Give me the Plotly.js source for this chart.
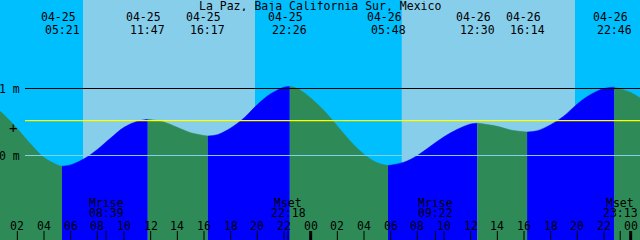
<!DOCTYPE html>
<html>
<head>
<meta charset="utf-8">
<script src="https://cdn.plot.ly/plotly-3.0.1.min.js"></script>
<style>html,body{margin:0;padding:0;background:#00BFFF;}#chart{width:640px;height:240px;}</style>
</head>
<body>
<div id="chart"></div>
<script>
// ---- data (hours since 2025-04-25 00:00, levels in metres) ----
const titleText = "La Paz, Baja California Sur, Mexico";
const hours  = [0.7, 1, 2, 3, 4, 5, 5.35, 6, 7, 8, 9, 10, 11, 11.783, 13, 14, 15, 16.283, 17, 18, 19, 20, 21, 22, 22.433, 23, 24, 25, 26, 27, 28, 29, 29.8, 31, 32, 33, 34, 35, 36, 36.5, 37, 38, 39, 40.233, 41, 42, 43, 44, 45, 46, 46.767, 48, 48.7];
const levels = [0.66, 0.61, 0.40, 0.17, -0.03, -0.14, -0.16, -0.14, -0.05, 0.09, 0.26, 0.42, 0.51, 0.54, 0.50, 0.42, 0.34, 0.29, 0.31, 0.41, 0.56, 0.76, 0.92, 1.02, 1.03, 1.00, 0.86, 0.67, 0.44, 0.21, 0.02, -0.11, -0.15, -0.10, 0.00, 0.14, 0.28, 0.39, 0.47, 0.48, 0.47, 0.435, 0.38, 0.35, 0.37, 0.46, 0.59, 0.77, 0.91, 1.00, 1.02, 0.94, 0.86];
const extremeHours = [5.35, 11.783, 16.283, 22.433, 29.8, 36.5, 40.233, 46.767];
const extremeDates = ["04-25", "04-25", "04-25", "04-25", "04-26", "04-26", "04-26", "04-26"];
const extremeTimes = ["05:21", "11:47", "16:17", "22:26", "05:48", "12:30", "16:14", "22:46"];
const sunriseHours = [6.925, 30.83];
const sunsetHours  = [19.825, 43.825];
const moonHours = [8.65, 22.3, 33.367, 47.217];
const moonKinds = ["Mrise", "Mset", "Mrise", "Mset"];
const moonTimes = ["08:39", "22:18", "09:22", "23:13"];
const tickHours  = [2, 4, 6, 8, 10, 12, 14, 16, 18, 20, 22, 24, 26, 28, 30, 32, 34, 36, 38, 40, 42, 44, 46, 48];
const tickLabels = ["02", "04", "06", "08", "10", "12", "14", "16", "18", "20", "22", "00", "02", "04", "06", "08", "10", "12", "14", "16", "18", "20", "22", "00"];
const midnightHours = [24, 48];
const meanLevel = 0.522;
const axisLabels = ["1 m", "0 m"];
const axisLevels = [1, 0];

// ---- styling ----
const X0 = 0.7, X1 = 48.7;
const Y0 = -1.2612, Y1 = 2.3209;
const NIGHT = "#00BFFF", DAY = "#87CEEB", RISE = "#0000FF", FALL = "#2E8B57";
const FONT = {family: "DejaVu Sans Mono, monospace", size: 11.5, color: "#000"};
const ROWH = 10;
const py = px => 1 - px / 240;

// tide fill segments between extremes
const bounds = [X0].concat(extremeHours, [X1]);
const traces = [];
for (let i = 0; i < bounds.length - 1; i++) {
  const a = bounds[i], b = bounds[i + 1];
  const xs = [], ys = [];
  hours.forEach((h, k) => { if (h >= a - 1e-9 && h <= b + 1e-9) { xs.push(h); ys.push(levels[k]); } });
  const rising = ys[ys.length - 1] > ys[0];
  const col = rising ? RISE : FALL;
  traces.push({x: [a, b], y: [Y0 - 0.2, Y0 - 0.2], mode: "lines", line: {width: 0}, hoverinfo: "skip", showlegend: false});
  traces.push({x: xs, y: ys, mode: "lines", line: {width: 0.5, color: col, shape: "spline", smoothing: 1}, fill: "tonexty", fillcolor: col, hoverinfo: "skip", showlegend: false});
}

// background day/night
const shapes = [];
shapes.push({type: "rect", xref: "paper", yref: "paper", x0: 0, x1: 1, y0: 0, y1: 1, fillcolor: NIGHT, line: {width: 0}, layer: "below"});
sunriseHours.forEach((s, i) => {
  shapes.push({type: "rect", xref: "x", yref: "paper", x0: s, x1: sunsetHours[i], y0: 0, y1: 1, fillcolor: DAY, line: {width: 0}, layer: "below"});
});
// reference lines
const lx0 = 25 / 640;
shapes.push({type: "line", xref: "paper", yref: "y", x0: lx0, x1: 1, y0: 1, y1: 1, line: {color: "#000000", width: 1}, layer: "above"});
shapes.push({type: "line", xref: "paper", yref: "y", x0: lx0, x1: 1, y0: 0, y1: 0, line: {color: DAY, width: 1}, layer: "above"});
shapes.push({type: "line", xref: "paper", yref: "y", x0: lx0, x1: 1, y0: meanLevel, y1: meanLevel, line: {color: "#FFFF00", width: 1.2}, layer: "above"});
// ticks
tickHours.forEach(h => {
  shapes.push({type: "line", xref: "x", yref: "paper", x0: h, x1: h, y0: 0, y1: 9 / 240, line: {color: "#000", width: 1}, layer: "above"});
});
midnightHours.forEach(h => {
  shapes.push({type: "line", xref: "x", yref: "paper", x0: h, x1: h, y0: 0, y1: 9 / 240, line: {color: "#000", width: 3}, layer: "above"});
});
moonHours.forEach(h => {
  shapes.push({type: "line", xref: "x", yref: "paper", x0: h, x1: h, y0: 0, y1: 9 / 240, line: {color: "#000", width: 1}, layer: "above"});
});

// annotations
function row(text, xref, x, ypx, extra) {
  return Object.assign({text: text, xref: xref, yref: "paper", x: x, y: py(ypx), xanchor: "center", yanchor: "middle",
    height: ROWH, borderpad: 0, showarrow: false, font: FONT}, extra || {});
}
const ann = [];
ann.push(row(titleText, "paper", 0.5, 6));
extremeHours.forEach((h, i) => {
  ann.push(row(extremeDates[i], "x", h, 17.5, {xshift: -4}));
  ann.push(row(extremeTimes[i], "x", h, 29.5));
});
moonHours.forEach((h, i) => {
  ann.push(row(moonKinds[i], "x", h, 202.5));
  ann.push(row(moonTimes[i], "x", h, 213));
});
tickHours.forEach((h, i) => {
  ann.push(row(tickLabels[i], "x", h, 225.5));
});
axisLevels.forEach((v, i) => {
  ann.push({text: axisLabels[i], xref: "paper", yref: "y", x: 0, xshift: -2, y: v, yshift: -0.5, xanchor: "left", yanchor: "middle", height: ROWH, borderpad: 0, showarrow: false, font: FONT});
});
ann.push({text: "+", xref: "paper", yref: "y", x: 13 / 640, y: meanLevel, yshift: -7, xanchor: "center", yanchor: "middle", height: ROWH, borderpad: 0, showarrow: false, font: {family: FONT.family, size: 14, color: "#000"}});

const layout = {
  width: 640, height: 240,
  margin: {l: 0, r: 0, t: 0, b: 0, pad: 0},
  paper_bgcolor: NIGHT, plot_bgcolor: NIGHT,
  xaxis: {range: [X0, X1], visible: false, fixedrange: true},
  yaxis: {range: [Y0, Y1], visible: false, fixedrange: true},
  shapes: shapes, annotations: ann, showlegend: false
};
Plotly.newPlot("chart", traces, layout, {staticPlot: true, displayModeBar: false});
</script>
</body>
</html>
